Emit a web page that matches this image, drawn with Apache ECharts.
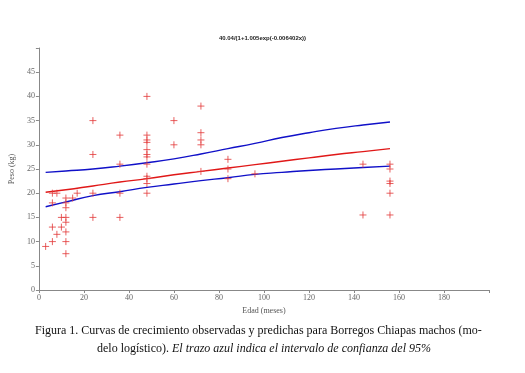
<!DOCTYPE html>
<html>
<head>
<meta charset="utf-8">
<script src="https://cdn.jsdelivr.net/npm/echarts@6/dist/echarts.min.js"></script>
<style>
  html, body { margin: 0; padding: 0; background: #fff; }
  #chart { width: 525px; height: 373px; }
</style>
</head>
<body>
<div id="chart"></div>
<script>
// observaciones (edad en meses, peso en kg)
const ageObs = [3, 6, 6, 6, 6, 8, 8, 10, 10, 12, 12, 12, 12, 12, 12, 12, 12, 15, 17,
  24, 24, 24, 24, 36, 36, 36, 36,
  48, 48, 48, 48, 48, 48, 48, 48, 48, 48, 48, 48,
  60, 60, 72, 72, 72, 72, 72, 84, 84, 84, 96,
  144, 144, 156, 156, 156, 156, 156, 156];
const weightObs = [9, 20, 18, 13, 10, 20, 11.5, 15, 13, 19, 18, 17, 15, 14, 12, 10, 7.5, 19, 20,
  35, 28, 20, 15, 32, 26, 20, 15,
  40, 32, 31, 30.5, 29, 28, 27.5, 26, 23.5, 23, 22, 20,
  35, 30, 38, 32.5, 31, 30, 24.5, 27, 25, 23, 24,
  26, 15.5, 26, 25, 22.5, 22, 20, 15.5];

// curvas
const curveAge = [3, 12, 24, 36, 48, 60, 72, 84, 96, 108, 120, 132, 144, 156];
const fitted = [20.2, 20.7, 21.5, 22.3, 23.0, 23.8, 24.5, 25.2, 25.9, 26.6, 27.3, 28.0, 28.6, 29.2];
const upper = [24.3, 24.6, 25.0, 25.6, 26.3, 27.1, 28.1, 29.2, 30.3, 31.5, 32.5, 33.4, 34.1, 34.7];
const lower = [17.2, 18.2, 19.5, 20.3, 21.2, 21.9, 22.6, 23.2, 23.9, 24.3, 24.7, 25.0, 25.3, 25.6];

const SERIF = "'Liberation Serif', 'DejaVu Serif', serif";
const pair = function (xs, ys) { return xs.map(function (x, i) { return [x, ys[i]]; }); };

const chart = echarts.init(document.getElementById("chart"));
chart.setOption({
  animation: false,
  title: {
    text: "40.04/(1+1.005exp(-0.006402x))",
    left: "center",
    top: 30,
    textStyle: { fontSize: 6, fontWeight: "bold", color: "#222", fontFamily: "Arial, sans-serif" }
  },
  grid: { left: 37, right: 36, top: 48, bottom: 83 },
  xAxis: {
    type: "value",
    min: 0, max: 200, interval: 20,
    name: "Edad (meses)",
    nameLocation: "middle",
    nameGap: 13,
    nameTextStyle: { fontFamily: SERIF, fontSize: 8, color: "#555" },
    axisLine: { lineStyle: { color: "#888", width: 1 } },
    axisTick: { length: 3, lineStyle: { color: "#888" } },
    axisLabel: {
      fontFamily: SERIF, fontSize: 8, color: "#666", margin: 4,
      formatter: function (v) { return v === 200 ? "" : v; }
    },
    splitLine: { show: false }
  },
  yAxis: {
    type: "value",
    min: 0, max: 50, interval: 5,
    name: "Peso (kg)",
    nameLocation: "middle",
    nameGap: 16,
    nameTextStyle: { fontFamily: SERIF, fontSize: 8, color: "#555" },
    axisLine: { show: true, lineStyle: { color: "#888", width: 1 } },
    axisTick: { show: true, length: 3, lineStyle: { color: "#888" } },
    axisLabel: {
      fontFamily: SERIF, fontSize: 8, color: "#666", margin: 4,
      formatter: function (v) { return v === 50 ? "" : v; }
    },
    splitLine: { show: false }
  },
  series: [
    {
      type: "scatter",
      data: pair(ageObs, weightObs),
      symbol: "path://M0,5L10,5M5,0L5,10",
      symbolSize: 7,
      itemStyle: { color: "none", borderColor: "#e23838", borderWidth: 1 },
      z: 3
    },
    {
      type: "line",
      data: pair(curveAge, upper),
      smooth: true, showSymbol: false,
      lineStyle: { color: "#1010c8", width: 1.4 }
    },
    {
      type: "line",
      data: pair(curveAge, fitted),
      smooth: true, showSymbol: false,
      lineStyle: { color: "#e01818", width: 1.4 }
    },
    {
      type: "line",
      data: pair(curveAge, lower),
      smooth: true, showSymbol: false,
      lineStyle: { color: "#1010c8", width: 1.4 }
    }
  ],
  graphic: [
    {
      type: "text",
      left: 35, top: 325,
      style: {
        text: "Figura 1. Curvas de crecimiento observadas y predichas para Borregos Chiapas machos (mo-",
        font: "12px " + SERIF,
        fill: "#111"
      }
    },
    {
      type: "text",
      left: 97, top: 343,
      style: {
        text: "{n|delo logístico). }{i|El trazo azul indica el intervalo de confianza del 95%}",
        fill: "#111",
        rich: {
          n: { font: "12px " + SERIF, fill: "#111" },
          i: { font: "italic 12px " + SERIF, fill: "#111" }
        }
      }
    }
  ]
});
</script>
</body>
</html>
